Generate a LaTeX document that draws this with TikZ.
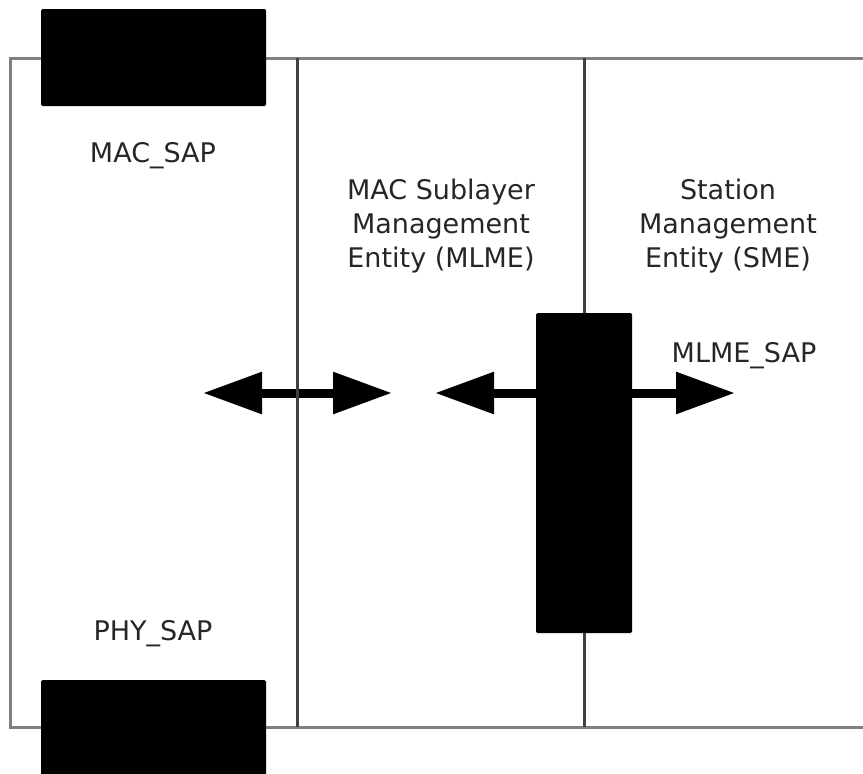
\documentclass[tikz,border=0pt]{standalone}
\usepackage{fontspec}
\setmainfont{DejaVu Sans}
\usetikzlibrary{arrows.meta,positioning}

\begin{document}
\begin{tikzpicture}[x=1pt, y=-1pt, every node/.style={inner sep=0pt, outer sep=0pt},
	sapbox/.style={fill=black, rounded corners=1.5pt},
	txt/.style={font=\fontsize{27}{34}\selectfont, align=center, text=black!85},
	frameline/.style={draw=black!50, line width=3pt},
	divider/.style={draw=black!75, line width=3pt},
	link/.style={line width=9pt, {Triangle[length=59pt,width=40pt]}-{Triangle[length=59pt,width=40pt]}}]
	\useasboundingbox (0,0) rectangle (863,774);
	% outer frame, open on the right
	\draw[frameline] (863,58) -- (10,58) -- (10,727) -- (863,727);
	% primitives
	\coordinate (phyL) at (203,393);
	\coordinate (phyR) at (392,393);
	\coordinate (smeL) at (435,393);
	\coordinate (smeR) at (735,393);
	\draw[link] (phyL) -- (phyR);
	\draw[link] (smeL) -- (smeR);
	% column dividers
	\draw[divider] (297,58) -- (297,727);
	\draw[divider] (584,58) -- (584,727);
	% access points
	\node[sapbox, minimum width=225pt, minimum height=97pt] (macsap) at (153.5,57.5) {};
	\node[sapbox, minimum width=225pt, minimum height=100pt] (physap) at (153.5,730) {};
	\node[sapbox, minimum width=96pt, minimum height=320pt] (mlmesap) at (584,473) {};
	% labels
	\node[txt, anchor=base] (macsaplbl) at (153,162) {MAC\_SAP};
	\node[txt, anchor=base] (physaplbl) at (153,640) {PHY\_SAP};
	\node[txt, anchor=base] (mlmesaplbl) at (744,362) {MLME\_SAP};
	\node[txt] (mlme) at (441,226) {MAC Sublayer\\Management\\Entity (MLME)};
	\node[txt] (sme) at (728,226) {Station\\Management\\Entity (SME)};
\end{tikzpicture}
\end{document}
